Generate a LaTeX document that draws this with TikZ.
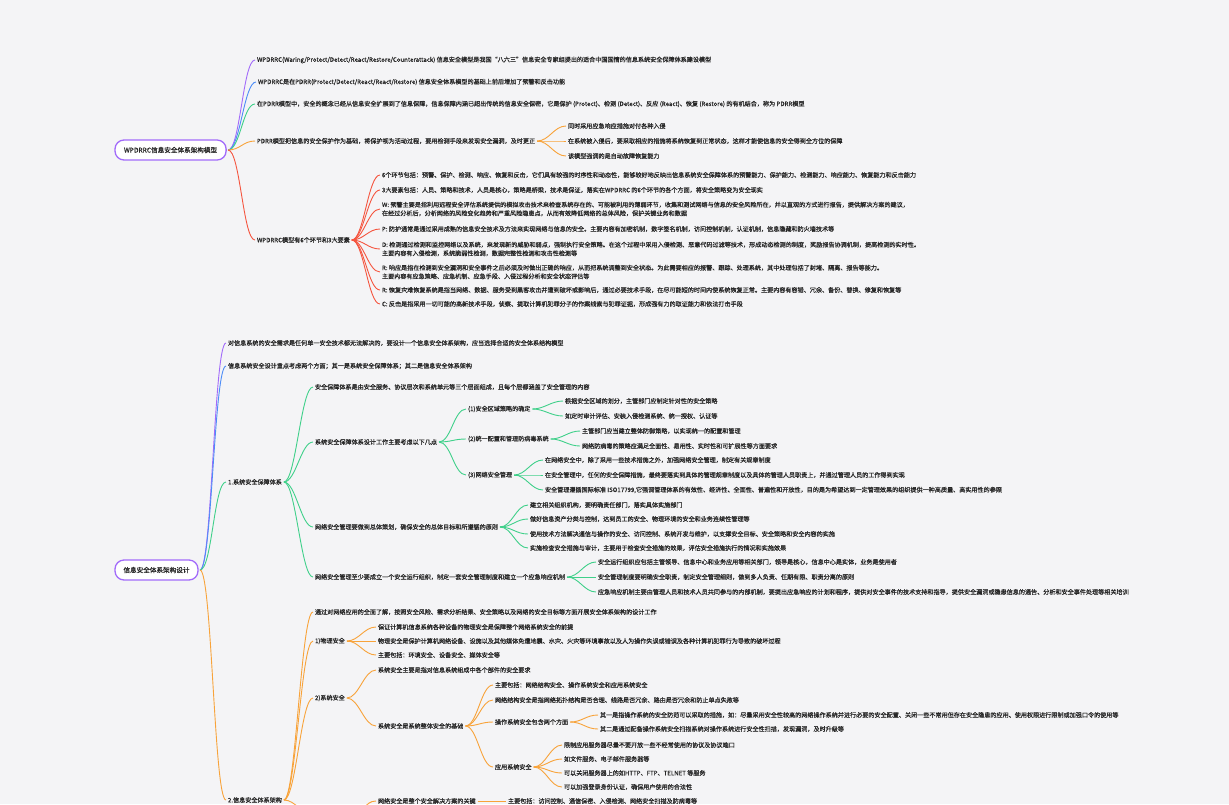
\documentclass[tikz,border=0pt]{standalone}
\usepackage{fontspec}
\setmainfont{Noto Sans CJK SC}[FakeBold=0.5]
\definecolor{bg}{HTML}{F4F4F6}
\definecolor{txt}{HTML}{262626}
\definecolor{cpurple}{HTML}{A26BFA}
\definecolor{cblue}{HTML}{4D8DF7}
\definecolor{cgreen}{HTML}{3FD08A}
\definecolor{corange}{HTML}{F8A33A}
\definecolor{cred}{HTML}{F4553F}
\begin{document}
\begin{tikzpicture}[x=1pt,y=-1pt,inner sep=0pt,outer sep=0pt,
txtnode/.style={anchor=west,text=txt,font=\fontsize{6.1}{8.6}\selectfont,align=left},
rootbox/.style={draw=cpurple,fill=white,line width=1.3pt,rounded corners=9pt,anchor=west,text=txt,font=\fontsize{6.6}{8}\selectfont,inner xsep=9pt,minimum height=20pt},
conn/.style={line width=0.9pt,shorten <=2pt,shorten >=2pt}]
\fill[bg] (0,0) rectangle (1229,804);
\useasboundingbox (0,0) rectangle (1229,804);
\clip (0,0) rectangle (1229,804);
% WPDRRC model
\draw (115,150) node[rootbox] (wroot) {WPDRRC信息安全体系架构模型};
\draw (257,60) node[txtnode] (wdef) {WPDRRC(Waring/Protect/Detect/React/Restore/Counterattack) 信息安全模型是我国“八六三”信息安全专家组提出的适合中国国情的信息系统安全保障体系建设模型};
\draw (258,82) node[txtnode] (wbase) {WPDRRC是在PDRR(Protect/Detect/React/React/Restore) 信息安全体系模型的基础上前后增加了预警和反击功能};
\draw (257,104) node[txtnode] (pdrr) {在PDRR模型中，安全的概念已经从信息安全扩展到了信息保障，信息保障内涵已超出传统的信息安全保密，它是保护 (Protect)、检测 (Detect)、反应 (React)、恢复 (Restore) 的有机结合，称为 PDRR模型};
\draw (257,141) node[txtnode] (pbase) {PDRR模型把信息的安全保护作为基础，将保护视为活动过程，要用检测手段来发现安全漏洞，及时更正};
\draw (568,126) node[txtnode] (pb1) {同时采用应急响应措施对付各种入侵};
\draw (568,141) node[txtnode] (pb2) {在系统被入侵后，要采取相应的措施将系统恢复到正常状态，这样才能使信息的安全得到全方位的保障};
\draw (568,156) node[txtnode] (pb3) {该模型强调的是自动故障恢复能力};
\draw (257,240) node[txtnode] (six) {WPDRRC模型有6个环节和3大要素};
\draw (382,175) node[txtnode] (s1) {6个环节包括：预警、保护、检测、响应、恢复和反击，它们具有较强的时序性和动态性，能够较好地反映出信息系统安全保障体系的预警能力、保护能力、检测能力、响应能力、恢复能力和反击能力};
\draw (382,190) node[txtnode] (s2) {3大要素包括：人员、策略和技术，人员是核心，策略是桥梁，技术是保证，落实在WPDRRC 的6个环节的各个方面，将安全策略变为安全现实};
\draw (382,209) node[txtnode] (s3) {W: 预警主要是指利用远程安全评估系统提供的模拟攻击技术来检查系统存在的、可能被利用的薄弱环节，收集和测试网络与信息的安全风险所在，并以直观的方式进行报告，提供解决方案的建议，\\在经过分析后，分析网络的风险变化趋势和严重风险隐患点，从而有效降低网络的总体风险，保护关键业务和数据};
\draw (382,229) node[txtnode] (s4) {P: 防护通常是通过采用成熟的信息安全技术及方法来实现网络与信息的安全。主要内容有加密机制，数字签名机制，访问控制机制，认证机制，信息隐藏和防火墙技术等};
\draw (382,249) node[txtnode] (s5) {D: 检测通过检测和监控网络以及系统，来发现新的威胁和弱点，强制执行安全策略。在这个过程中采用入侵检测、恶意代码过滤等技术，形成动态检测的制度，奖励报告协调机制，提高检测的实时性。\\主要内容有入侵检测，系统脆弱性检测，数据完整性检测和攻击性检测等};
\draw (382,272) node[txtnode] (s6) {R: 响应是指在检测到安全漏洞和安全事件之后必须及时做出正确的响应，从而把系统调整到安全状态。为此需要相应的报警、跟踪、处理系统，其中处理包括了封堵、隔离、报告等能力。\\主要内容有应急策略、应急机制、应急手段、入侵过程分析和安全状态评估等};
\draw (382,290) node[txtnode] (s7) {R: 恢复灾难恢复系统是指当网络、数据、服务受到黑客攻击并遭到破坏或影响后，通过必要技术手段，在尽可能短的时间内使系统恢复正常。主要内容有容错、冗余、备份、替换、修复和恢复等};
\draw (382,304) node[txtnode] (s8) {C: 反击是指采用一切可能的高新技术手段，侦察、提取计算机犯罪分子的作案线索与犯罪证据，形成强有力的取证能力和依法打击手段};
\foreach \n/\c in {wdef/cpurple,wbase/cblue,pdrr/cgreen,pbase/corange,six/cred}
  \draw[conn,\c] (wroot.0) .. controls +(14,0) and +(-14,0) .. (\n.180);
\foreach \n in {pb1,pb2,pb3}
  \draw[conn,corange] (pbase.0) .. controls +(14,0) and +(-14,0) .. (\n.180);
\foreach \n in {1,...,8}
  \draw[conn,cred] (six.0) .. controls +(14,0) and +(-14,0) .. (s\n.180);
% architecture design
\draw (115,570) node[rootbox,inner xsep=8.5pt] (droot) {信息安全体系架构设计};
\draw (228,343) node[txtnode] (need) {对信息系统的安全需求是任何单一安全技术都无法解决的，要设计一个信息安全体系架构，应当选择合适的安全体系结构模型};
\draw (228,366) node[txtnode] (two) {信息系统安全设计重点考虑两个方面；其一是系统安全保障体系；其二是信息安全体系架构};
\draw (228,482) node[txtnode] (guar) {1.系统安全保障体系};
\draw (228,800) node[txtnode] (arch) {2.信息安全体系架构};
\foreach \n/\c in {need/cpurple,two/cblue,guar/cgreen,arch/corange}
  \draw[conn,\c] (droot.0) .. controls +(14,0) and +(-14,0) .. (\n.180);
% 1. guarantee system
\draw (315,387) node[txtnode] (layer) {安全保障体系是由安全服务、协议层次和系统单元等三个层面组成，且每个层都涵盖了安全管理的内容};
\draw (315,442) node[txtnode] (points) {系统安全保障体系设计工作主要考虑以下几点};
\draw (315,527) node[txtnode] (plan) {网络安全管理要做到总体策划，确保安全的总体目标和所遵循的原则};
\draw (315,577) node[txtnode] (org) {网络安全管理至少要成立一个安全运行组织，制定一套安全管理制度和建立一个应急响应机制};
\foreach \n in {layer,points,plan,org}
  \draw[conn,cgreen] (guar.0) .. controls +(14,0) and +(-14,0) .. (\n.180);
\draw (468,409) node[txtnode] (zone) {(1)安全区域策略的确定};
\draw (468,439) node[txtnode] (virus) {(2)统一配置和管理防病毒系统};
\draw (468,475) node[txtnode] (netm) {(3)网络安全管理};
\foreach \n in {zone,virus,netm}
  \draw[conn,cgreen] (points.0) .. controls +(14,0) and +(-14,0) .. (\n.180);
\draw (565,401) node[txtnode] (zone1) {根据安全区域的划分，主管部门应制定针对性的安全策略};
\draw (565,416) node[txtnode] (zone2) {如定时审计评估、安装入侵检测系统、统一授权、认证等};
\draw (582,431) node[txtnode] (virus1) {主管部门应当建立整体防御策略，以实现统一的配置和管理};
\draw (582,446) node[txtnode] (virus2) {网络防病毒的策略应满足全面性、易用性、实时性和可扩展性等方面要求};
\draw (545,460) node[txtnode] (netm1) {在网络安全中，除了采用一些技术措施之外，加强网络安全管理，制定有关规章制度};
\draw (545,475) node[txtnode] (netm2) {在安全管理中，任何的安全保障措施，最终要落实到具体的管理规章制度以及具体的管理人员职责上，并通过管理人员的工作得到实现};
\draw (545,490) node[txtnode] (netm3) {安全管理遵循国际标准 ISO17799,它强调管理体系的有效性、经济性、全面性、普遍性和开放性，目的是为希望达到一定管理效果的组织提供一种高质量、高实用性的参照};
\foreach \p/\n in {zone/zone1,zone/zone2,virus/virus1,virus/virus2,netm/netm1,netm/netm2,netm/netm3}
  \draw[conn,cgreen] (\p.0) .. controls +(14,0) and +(-14,0) .. (\n.180);
\draw (530,505) node[txtnode] (plan1) {建立相关组织机构，要明确责任部门，落实具体实施部门};
\draw (530,519) node[txtnode] (plan2) {做好信息资产分类与控制，达到员工的安全、物理环境的安全和业务连续性管理等};
\draw (530,534) node[txtnode] (plan3) {使用技术方法解决通信与操作的安全、访问控制、系统开发与维护，以支撑安全目标、安全策略和安全内容的实施};
\draw (530,548) node[txtnode] (plan4) {实施检查安全措施与审计，主要用于检查安全措施的效果，评估安全措施执行的情况和实施效果};
\draw (598,562) node[txtnode] (org1) {安全运行组织应包括主管领导、信息中心和业务应用等相关部门，领导是核心，信息中心是实体，业务是使用者};
\draw (598,577) node[txtnode] (org2) {安全管理制度要明确安全职责，制定安全管理细则，做到多人负责、任期有限、职责分离的原则};
\draw (598,592) node[txtnode] (org3) {应急响应机制主要由管理人员和技术人员共同参与的内部机制，要提出应急响应的计划和程序，提供对安全事件的技术支持和指导，提供安全漏洞或隐患信息的通告、分析和安全事件处理等相关培训};
\foreach \p/\n in {plan/plan1,plan/plan2,plan/plan3,plan/plan4,org/org1,org/org2,org/org3}
  \draw[conn,cgreen] (\p.0) .. controls +(14,0) and +(-14,0) .. (\n.180);
% 2. security architecture
\draw (315,612) node[txtnode] (survey) {通过对网络应用的全面了解，按照安全风险、需求分析结果、安全策略以及网络的安全目标等方面开展安全体系架构的设计工作};
\draw (315,641) node[txtnode] (phys) {1)物理安全};
\draw (315,698) node[txtnode] (sys) {2)系统安全};
\coordinate (netw) at (315,815);
\coordinate (nete) at (350,815);
\foreach \n in {survey,phys,sys}
  \draw[conn,corange] (arch.0) .. controls +(14,0) and +(-14,0) .. (\n.180);
\draw[conn,corange,shorten >=0pt] (arch.0) .. controls +(14,0) and +(-14,0) .. (netw);
\draw (378,627) node[txtnode] (phys1) {保证计算机信息系统各种设备的物理安全是保障整个网络系统安全的前提};
\draw (378,641) node[txtnode] (phys2) {物理安全是保护计算机网络设备、设施以及其他媒体免遭地震、水灾、火灾等环境事故以及人为操作失误或错误及各种计算机犯罪行为导致的破坏过程};
\draw (378,655) node[txtnode] (phys3) {主要包括：环境安全、设备安全、媒体安全等};
\draw (378,670) node[txtnode] (sysreq) {系统安全主要是指对信息系统组成中各个部件的安全要求};
\draw (378,726) node[txtnode] (sysbase) {系统安全是系统整体安全的基础};
\foreach \p/\n in {phys/phys1,phys/phys2,phys/phys3,sys/sysreq,sys/sysbase}
  \draw[conn,corange] (\p.0) .. controls +(14,0) and +(-14,0) .. (\n.180);
\draw (495,685) node[txtnode] (sb1) {主要包括：网络结构安全、操作系统安全和应用系统安全};
\draw (495,700) node[txtnode] (sb2) {网络结构安全是指网络拓扑结构是否合理、线路是否冗余、路由是否冗余和防止单点失败等};
\draw (495,722) node[txtnode] (os) {操作系统安全包含两个方面};
\draw (495,767) node[txtnode] (app) {应用系统安全};
\foreach \n in {sb1,sb2,os,app}
  \draw[conn,corange] (sysbase.0) .. controls +(14,0) and +(-14,0) .. (\n.180);
\draw (600,715) node[txtnode] (os1) {其一是指操作系统的安全防范可以采取的措施，如：尽量采用安全性较高的网络操作系统并进行必要的安全配置、关闭一些不常用但存在安全隐患的应用、使用权限进行限制或加强口令的使用等};
\draw (600,729) node[txtnode] (os2) {其二是通过配备操作系统安全扫描系统对操作系统进行安全性扫描，发现漏洞，及时升级等};
\draw (564,745) node[txtnode] (app1) {限制应用服务器尽量不要开放一些不经常使用的协议及协议端口};
\draw (564,759) node[txtnode] (app2) {如文件服务、电子邮件服务器等};
\draw (564,773) node[txtnode] (app3) {可以关闭服务器上的如HTTP、FTP、TELNET 等服务};
\draw (564,787) node[txtnode] (app4) {可以加强登录身份认证，确保用户使用的合法性};
\foreach \p/\n in {os/os1,os/os2,app/app1,app/app2,app/app3,app/app4}
  \draw[conn,corange] (\p.0) .. controls +(14,0) and +(-14,0) .. (\n.180);
\draw (378,801) node[txtnode] (netkey) {网络安全是整个安全解决方案的关键};
\draw (508,801) node[txtnode] (netinc) {主要包括：访问控制、通信保密、入侵检测、网络安全扫描及防病毒等};
\draw[conn,corange,shorten <=0pt] (nete) .. controls +(14,0) and +(-14,0) .. (netkey.180);
\draw[conn,corange] (netkey.0) -- (netinc.180);
\end{tikzpicture}
\end{document}
